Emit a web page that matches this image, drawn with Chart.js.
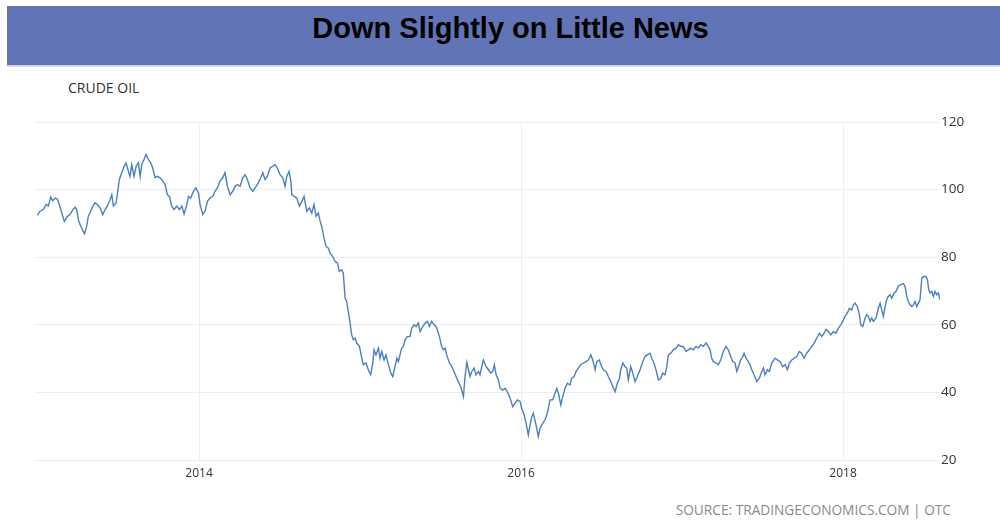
<!DOCTYPE html>
<html>
<head>
<meta charset="utf-8">
<script src="https://cdn.jsdelivr.net/npm/chart.js@4/dist/chart.umd.min.js"></script>
<style>
  body { margin: 0; background: #fff; }
  #wrap { position: relative; width: 1000px; height: 521px; overflow: hidden; }
  .banner {
    position: absolute; left: 7px; top: 6px; width: 993px; height: 59px;
    background: #6074b6; border-bottom: 2px solid #cfd4ea;
  }
  .headline {
    position: absolute; left: 14px; top: 14px; width: 993px; text-align: center;
    font: bold 29px/29px "Liberation Sans", Arial, sans-serif; color: #000;
  }
  .series {
    position: absolute; left: 68px; top: 81px;
    font: 14px/14px "Open Sans", sans-serif; color: #333;
  }
  .source {
    position: absolute; right: 49px; top: 503px;
    font: 13.7px/14px "Open Sans", sans-serif; color: #8a8a8a;
  }
  #oilChart { position: absolute; left: 0; top: 0; }
</style>
</head>
<body>
<div id="wrap">
  <div class="banner"></div>
  <div class="headline">Down Slightly on Little News</div>
  <div class="series">CRUDE OIL</div>
  <div class="source">SOURCE: TRADINGECONOMICS.COM | OTC</div>
  <canvas id="oilChart" width="1000" height="521"></canvas>
</div>
<script>
// crude oil close, USD/bbl, dates as fractional years
const dates = [
  2012.996,2013.012,2013.033,2013.050,2013.064,2013.079,2013.091,2013.106,2013.120,2013.132,
  2013.147,2013.163,2013.182,2013.199,2013.216,2013.230,2013.240,2013.250,2013.261,2013.275,
  2013.288,2013.302,2013.312,2013.327,2013.340,2013.354,2013.368,2013.385,2013.402,2013.416,
  2013.430,2013.447,2013.458,2013.468,2013.485,2013.495,2013.505,2013.520,2013.534,2013.547,
  2013.561,2013.571,2013.582,2013.596,2013.609,2013.623,2013.634,2013.644,2013.658,2013.671,
  2013.685,2013.700,2013.712,2013.727,2013.741,2013.758,2013.775,2013.789,2013.803,2013.816,
  2013.830,2013.845,2013.861,2013.878,2013.893,2013.907,2013.924,2013.934,2013.948,2013.965,
  2013.981,2013.996,2014.006,2014.023,2014.037,2014.052,2014.068,2014.085,2014.099,2014.114,
  2014.130,2014.147,2014.161,2014.176,2014.193,2014.209,2014.224,2014.238,2014.255,2014.271,
  2014.286,2014.300,2014.317,2014.334,2014.348,2014.368,2014.383,2014.396,2014.410,2014.424,
  2014.441,2014.458,2014.472,2014.486,2014.503,2014.520,2014.534,2014.545,2014.559,2014.570,
  2014.576,2014.590,2014.607,2014.623,2014.638,2014.652,2014.669,2014.685,2014.700,2014.714,
  2014.727,2014.741,2014.752,2014.762,2014.776,2014.789,2014.803,2014.814,2014.830,2014.845,
  2014.859,2014.871,2014.886,2014.896,2014.907,2014.917,2014.927,2014.938,2014.948,2014.958,
  2014.969,2014.979,2014.996,2015.011,2015.020,2015.037,2015.051,2015.066,2015.079,2015.087,
  2015.099,2015.114,2015.124,2015.135,2015.149,2015.161,2015.176,2015.191,2015.203,2015.217,
  2015.228,2015.238,2015.248,2015.259,2015.269,2015.280,2015.294,2015.310,2015.321,2015.335,
  2015.348,2015.362,2015.373,2015.389,2015.404,2015.418,2015.430,2015.445,2015.460,2015.472,
  2015.480,2015.493,2015.507,2015.517,2015.528,2015.538,2015.555,2015.563,2015.579,2015.596,
  2015.610,2015.625,2015.642,2015.652,2015.663,2015.673,2015.683,2015.694,2015.708,2015.720,
  2015.735,2015.745,2015.756,2015.766,2015.783,2015.797,2015.812,2015.824,2015.834,2015.845,
  2015.859,2015.870,2015.886,2015.901,2015.915,2015.932,2015.948,2015.963,2015.977,2015.994,
  2016.004,2016.019,2016.031,2016.045,2016.056,2016.066,2016.076,2016.093,2016.107,2016.118,
  2016.135,2016.149,2016.163,2016.180,2016.197,2016.211,2016.222,2016.234,2016.247,2016.259,
  2016.273,2016.288,2016.304,2016.315,2016.329,2016.342,2016.356,2016.371,2016.387,2016.404,
  2016.418,2016.433,2016.445,2016.460,2016.470,2016.486,2016.501,2016.511,2016.528,2016.542,
  2016.557,2016.570,2016.584,2016.598,2016.611,2016.619,2016.632,2016.646,2016.656,2016.666,
  2016.681,2016.694,2016.708,2016.722,2016.739,2016.756,2016.770,2016.784,2016.801,2016.812,
  2016.822,2016.838,2016.853,2016.868,2016.880,2016.894,2016.905,2016.915,2016.930,2016.946,
  2016.963,2016.977,2016.992,2017.008,2017.025,2017.039,2017.054,2017.070,2017.087,2017.101,
  2017.116,2017.132,2017.149,2017.163,2017.174,2017.184,2017.194,2017.211,2017.225,2017.240,
  2017.256,2017.273,2017.287,2017.302,2017.315,2017.329,2017.340,2017.350,2017.364,2017.377,
  2017.385,2017.397,2017.412,2017.422,2017.433,2017.447,2017.464,2017.480,2017.495,2017.505,
  2017.515,2017.530,2017.542,2017.557,2017.578,2017.592,2017.609,2017.625,2017.640,2017.654,
  2017.666,2017.681,2017.696,2017.712,2017.728,2017.743,2017.758,2017.774,2017.791,2017.805,
  2017.820,2017.837,2017.853,2017.868,2017.882,2017.894,2017.909,2017.924,2017.940,2017.956,
  2017.971,2017.986,2017.998,2018.012,2018.027,2018.039,2018.054,2018.064,2018.074,2018.089,
  2018.101,2018.110,2018.122,2018.137,2018.147,2018.157,2018.168,2018.178,2018.188,2018.205,
  2018.219,2018.230,2018.240,2018.250,2018.261,2018.271,2018.281,2018.292,2018.302,2018.317,
  2018.329,2018.343,2018.358,2018.374,2018.385,2018.396,2018.405,2018.416,2018.427,2018.437,
  2018.447,2018.458,2018.468,2018.478,2018.489,2018.499,2018.515,2018.524,2018.532,2018.540,
  2018.551,2018.561,2018.571,2018.582,2018.592,2018.602
];
const prices = [
  92.4,93.6,94.1,95.6,95.1,97.8,96.7,97.5,97.2,95.6,
  93.1,90.6,92.1,92.6,94.1,94.8,94.1,91.1,89.6,88.2,
  86.9,89.1,92.1,93.6,95.1,96.1,95.6,94.6,92.6,94.1,
  95.1,97.0,98.5,95.1,96.1,99.5,103.0,105.0,106.9,107.9,
  105.4,103.9,107.4,103.9,106.9,107.9,103.9,107.4,108.9,110.4,
  108.9,107.9,106.4,103.5,103.9,103.5,102.5,101.5,98.5,98.0,
  95.1,94.1,95.1,94.1,95.1,92.8,95.6,98.0,97.5,99.5,
  100.5,99.0,95.6,92.6,93.6,96.5,97.5,98.0,99.5,100.5,
  102.5,103.5,105.0,101.0,98.5,99.5,101.0,101.5,101.0,103.5,
  104.4,103.0,100.5,99.5,100.5,102.0,103.5,105.0,103.0,103.9,
  106.4,106.9,107.4,106.4,104.4,103.5,101.0,103.9,105.4,102.5,
  98.5,98.0,97.5,95.1,96.5,98.0,93.6,94.6,93.1,95.6,
  92.1,93.1,90.6,89.1,85.7,83.2,82.7,81.2,80.2,78.8,
  78.3,75.8,76.3,75.3,67.9,66.9,63.9,60.5,57.0,55.6,
  56.1,54.6,53.6,50.1,48.2,48.7,46.7,45.2,48.7,52.6,
  51.1,53.1,50.1,52.1,49.6,51.1,48.2,45.7,44.7,47.6,
  50.1,49.1,51.1,53.1,53.6,55.6,56.5,56.5,59.0,60.0,
  59.5,60.5,58.0,59.5,60.5,61.0,59.5,61.0,60.0,59.5,
  58.5,56.5,53.6,52.6,53.1,51.1,48.7,48.2,46.7,44.7,
  43.2,41.7,38.8,44.7,48.9,46.7,44.7,46.2,47.2,45.2,
  46.2,45.2,47.6,49.6,47.6,46.7,45.7,46.2,48.2,45.2,
  43.7,41.2,40.7,41.2,40.2,38.3,35.8,36.8,37.8,37.3,
  35.3,33.3,30.9,27.4,30.4,32.8,33.8,30.4,26.9,29.4,
  30.9,31.9,33.8,37.8,37.8,39.8,41.2,39.3,36.3,38.8,
  41.2,42.7,42.2,44.2,44.7,46.2,47.2,48.2,48.7,49.1,
  49.6,51.1,49.6,46.7,49.1,49.6,47.6,46.7,46.2,44.7,
  43.2,41.7,40.2,42.7,44.2,46.7,48.7,47.6,47.2,43.7,
  47.6,45.7,43.2,44.7,46.7,49.1,50.6,51.1,51.6,50.1,
  49.1,46.7,43.7,44.2,45.7,45.2,47.6,51.1,51.6,52.6,
  53.1,54.1,53.6,53.6,52.1,52.6,53.1,52.6,53.6,53.1,
  54.1,53.6,54.6,53.6,52.6,50.1,49.1,48.7,48.2,49.6,
  52.1,53.6,52.6,50.6,49.1,48.7,46.2,47.6,49.6,50.6,
  51.6,50.1,49.1,48.2,46.7,45.2,43.2,44.2,46.2,47.2,
  45.2,46.7,46.2,48.7,50.1,49.6,49.1,47.6,48.2,46.7,
  48.7,49.6,50.1,50.6,52.1,51.6,50.1,51.6,52.6,53.6,
  54.6,56.1,57.5,56.5,57.5,58.7,58.0,57.0,58.0,57.5,
  59.0,60.0,61.0,62.5,63.5,64.9,64.4,65.9,66.4,65.4,
  63.0,60.0,59.5,62.0,63.0,62.5,61.0,62.0,61.0,62.0,
  64.9,66.4,64.4,62.5,65.4,67.4,68.4,68.9,67.9,69.4,
  69.9,71.4,71.9,72.2,71.4,68.4,66.9,65.9,65.4,65.9,
  66.9,65.4,66.4,67.4,73.8,74.3,74.3,73.3,70.4,69.4,
  69.9,68.4,69.9,68.9,69.4,67.4
];
const yearTicks = [2014, 2016, 2018];
const X_MIN = 2012.981, X_MAX = 2018.602;

const LINE_COLOR = '#4a80bd';
const GRID_COLOR = '#eeeeee';

const ctx = document.getElementById('oilChart').getContext('2d');
new Chart(ctx, {
  type: 'line',
  data: {
    datasets: [{
      data: dates.map((d, i) => ({ x: d, y: prices[i] })),
      borderColor: LINE_COLOR,
      borderWidth: 1.4,
      pointRadius: 0,
      tension: 0,
      fill: false
    }]
  },
  options: {
    responsive: false,
    animation: false,
    events: [],
    layout: { padding: { left: 35, top: 122, right: 0, bottom: 0 } },
    plugins: { legend: { display: false }, tooltip: { enabled: false } },
    scales: {
      x: {
        type: 'linear',
        min: X_MIN,
        max: X_MAX,
        afterBuildTicks: s => { s.ticks = yearTicks.map(v => ({ value: v })); },
        afterFit: s => { s.height = 61; },
        ticks: {
          callback: v => String(v),
          color: '#333', padding: 6, maxRotation: 0, autoSkip: false,
          font: { family: 'Open Sans', size: 12 }
        },
        grid: { color: GRID_COLOR, drawTicks: false },
        border: { display: false }
      },
      y: {
        position: 'right',
        min: 20,
        max: 120,
        afterFit: s => { s.width = 60; },
        ticks: {
          stepSize: 20, color: '#333', padding: 1,
          font: { family: 'Open Sans', size: 13.5 }
        },
        grid: { color: GRID_COLOR, drawTicks: false },
        border: { display: false }
      }
    }
  }
});
</script>
</body>
</html>
